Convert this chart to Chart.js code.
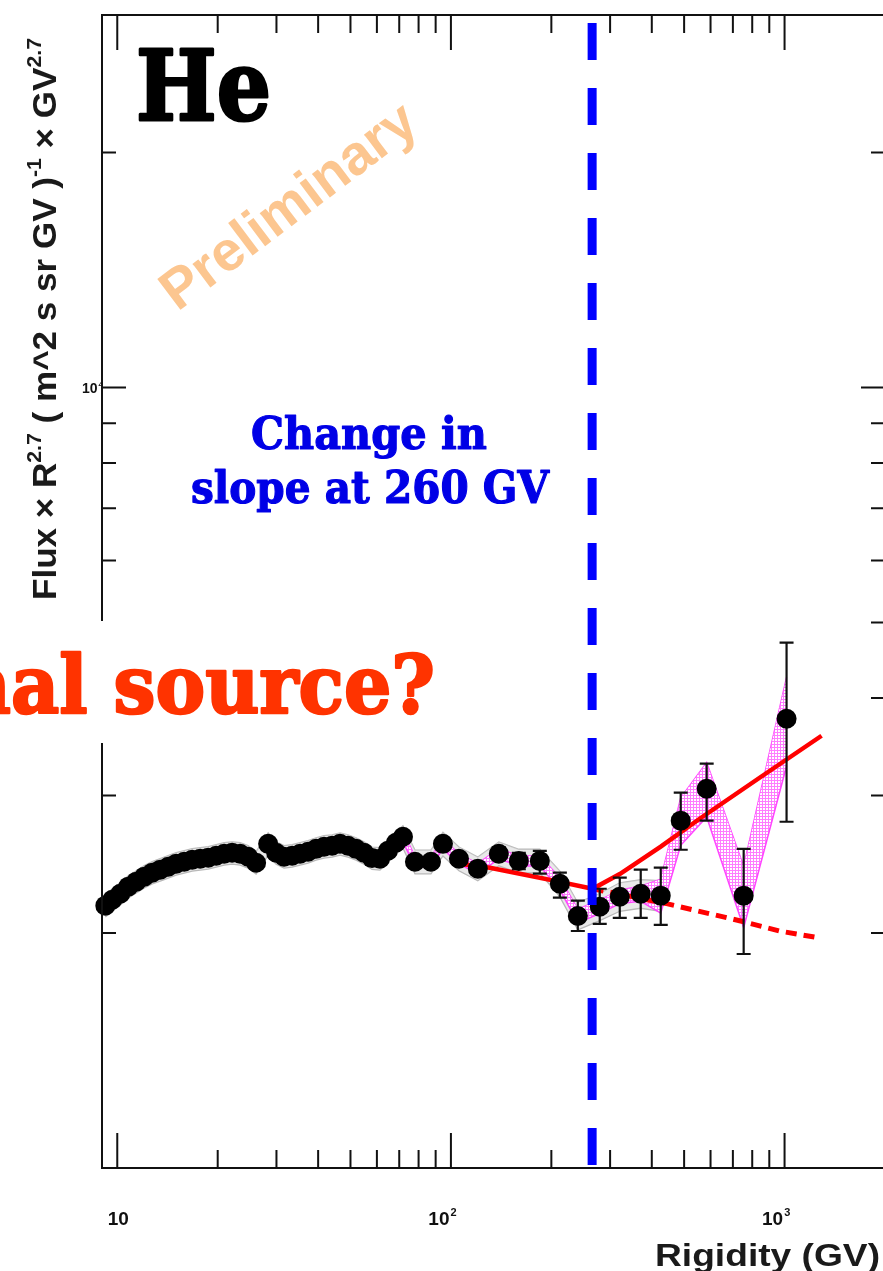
<!DOCTYPE html>
<html>
<head>
<meta charset="utf-8">
<script src="https://cdn.jsdelivr.net/npm/chart.js@4.4.1/dist/chart.umd.min.js"></script>
<style>
  html, body { margin: 0; padding: 0; background: #fff; overflow: hidden; }
  #wrap { width: 890px; height: 1271px; }
</style>
</head>
<body>
<div id="wrap"><canvas id="heChart" width="890" height="1271"></canvas></div>
<script>
// He flux x R^2.7
const rigidity = [9.21, 9.66, 10.21, 10.79, 11.40, 12.05, 12.73, 13.45, 14.21, 15.02,
    15.87, 16.77, 17.72, 18.73, 19.79, 20.91, 22.09, 23.35, 24.67, 26.07,
    28.33, 29.93, 31.62, 33.42, 35.31, 37.31, 39.43, 41.66, 44.03, 46.52,
    49.16, 51.95, 54.89, 58.0, 61.29, 64.76, 68.43, 71.83, 78.03, 87.14,
    94.64, 105.7, 120.4, 139.2, 159.8, 184.7, 212.1, 240.1, 279.3, 320.7,
    370.6, 425.5, 488.4, 584.2, 754.1, 1013.9];
const flux = [2168, 2206, 2246, 2293, 2327, 2362, 2390, 2411, 2432, 2454,
    2468, 2483, 2490, 2498, 2512, 2527, 2534, 2527, 2505, 2461,
    2602, 2534, 2505, 2512, 2527, 2542, 2564, 2580, 2587, 2602,
    2587, 2564, 2534, 2495, 2490, 2549, 2610, 2657, 2468, 2468,
    2602, 2490, 2418, 2527, 2474, 2474, 2313, 2103, 2161, 2226,
    2246, 2233, 2786, 3061, 2233, 3763];
const statUp = [9, 9, 9, 9, 10, 10, 10, 10, 11, 11,
    11, 12, 12, 12, 13, 13, 14, 14, 15, 15,
    16, 16, 17, 17, 18, 18, 19, 20, 21, 22,
    23, 24, 25, 26, 27, 28, 30, 32, 34, 36,
    38, 40, 42, 48, 60, 75, 77, 97, 118, 129,
    165, 192, 240, 235, 331, 947];
const statDown = [9, 9, 9, 9, 10, 10, 10, 10, 11, 11,
    11, 12, 12, 12, 13, 13, 14, 14, 15, 15,
    16, 16, 17, 17, 18, 18, 19, 20, 21, 22,
    23, 24, 25, 26, 27, 28, 30, 32, 34, 36,
    38, 40, 42, 48, 60, 91, 93, 91, 106, 135,
    155, 184, 229, 275, 353, 986];
// systematic bands, half width in percent (null = not drawn)
const sysGreyPct = [3.3, 3.3, 3.3, 3.3, 3.3, 3.3, 3.3, 3.3, 3.3, 3.3,
    3.3, 3.3, 3.3, 3.3, 3.3, 3.3, 3.3, 3.3, 3.3, 3.3,
    3.3, 3.3, 3.3, 3.3, 3.3, 3.3, 3.3, 3.3, 3.3, 3.3,
    3.3, 3.3, 3.3, 3.3, 3.3, 3.3, 3.3, 3.3, 3.5, 3.5,
    3.5, 3.5, 3.5, 3.5, 3.5, 3.5, 3.8, 4.0, 4.0, 4.2,
    4.2, 4.5, null, null, null, null];
const sysPinkPct = [null, null, null, null, null, null, null, null, null, null,
    null, null, null, null, null, null, null, null, null, null,
    null, null, null, null, null, null, null, null, null, null,
    null, null, null, null, null, null, null, 1.5, 1.5, 1.5,
    1.5, 1.5, 1.5, 1.5, 1.5, 1.5, 1.8, 2.0, 2.0, 2.0,
    2.2, 5.0, 7.0, 8.0, 9.0, 13.0];

// fits
const brokenFitR = [100.7, 130.9, 172.4, 212.0, 266.0, 320.7, 425.5, 556.6, 841.8, 1291];
const brokenFitF = [2460, 2424, 2368, 2326, 2279, 2380, 2580, 2802, 3162, 3579];
const singleFitR = [266.0, 443.0, 733.0, 966.0, 1273];
const singleFitF = [2279, 2181, 2074, 2012, 1971];
const breakRigidity = 265;

// axes
const xMin = 9, xMax = 2000, yMin = 1000, yMax = 30000;
const xMajorTicks = [10, 100, 1000];
const xMinorTicks = [20, 30, 40, 50, 60, 70, 80, 90, 200, 300, 400, 500, 600, 700, 800, 900, 2000];
const xTickBase = ["10", "10", "10"];
const xTickExp = ["", "2", "3"];
const yMajorTicks = [1000, 10000];
const yMinorTicks = [2000, 3000, 4000, 5000, 6000, 7000, 8000, 9000, 20000];
const yLabelTicks = [10000];
const yTickBase = ["10"];
const yTickExp = ["4"];

const pts = (xs, ys) => xs.map((v, i) => ({ x: v, y: ys[i] }));
const band = (pct, sign) => rigidity
    .map((r, i) => pct[i] == null ? null : { x: r, y: flux[i] * (1 + sign * pct[i] / 100) })
    .filter(p => p);

const canvas = document.getElementById("heChart");
const ctx = canvas.getContext("2d");

// pink dotted fill
const pat = document.createElement("canvas");
pat.width = 3; pat.height = 3;
const pc = pat.getContext("2d");
pc.fillStyle = "#ff7cff";
pc.fillRect(0, 0, 3, 3);
pc.fillStyle = "#ffffff";
pc.fillRect(1, 1, 2, 2);
const pinkFill = ctx.createPattern(pat, "repeat");

const SANS = "'Liberation Sans', Arial, sans-serif";
const SLAB = "'DejaVu Serif', serif";

// draws text squeezed/stretched to a given width, optional stroke for heavier weight
function fitText(c, text, x, y, font, width, align, stroke) {
    c.font = font;
    const s = width / c.measureText(text).width;
    c.save();
    c.translate(x, y);
    c.scale(s, 1);
    c.textAlign = align;
    if (stroke) {
        c.lineWidth = stroke;
        c.lineJoin = "round";
        c.strokeStyle = c.fillStyle;
        c.strokeText(text, 0, 0);
    }
    c.fillText(text, 0, 0);
    c.restore();
}

function supText(c, base, exp, x, y, size) {
    c.font = "bold " + size + "px " + SANS;
    c.textAlign = "left";
    c.fillText(base, x, y);
    const w = c.measureText(base).width;
    if (exp) {
        c.font = "bold " + Math.round(size * 0.6) + "px " + SANS;
        c.fillText(exp, x + w + 1, y - size * 0.45);
    }
}

// error bars, drawn just before the markers
const errorBars = {
    id: "errorBars",
    beforeDatasetDraw(chart, args) {
        if (args.index !== 6) return;
        const { ctx: c, scales: { x, y } } = chart;
        c.save();
        c.strokeStyle = "#111";
        c.lineWidth = 2.2;
        c.beginPath();
        rigidity.forEach((r, i) => {
            const px = x.getPixelForValue(r);
            const y1 = y.getPixelForValue(flux[i] + statUp[i]);
            const y2 = y.getPixelForValue(flux[i] - statDown[i]);
            c.moveTo(px, y1); c.lineTo(px, y2);
            c.moveTo(px - 7, y1); c.lineTo(px + 7, y1);
            c.moveTo(px - 7, y2); c.lineTo(px + 7, y2);
        });
        c.stroke();
        c.restore();
    }
};

// ROOT-like frame with inner ticks, plus the break line
const frame = {
    id: "frame",
    afterDatasetsDraw(chart) {
        const { ctx: c, chartArea: a, scales: { x, y } } = chart;
        c.save();
        c.strokeStyle = "#111";
        c.lineWidth = 2;
        c.strokeRect(a.left, a.top, a.right - a.left, a.bottom - a.top);
        c.beginPath();
        const tx = (v, len) => {
            const p = x.getPixelForValue(v);
            c.moveTo(p, a.bottom); c.lineTo(p, a.bottom - len);
            c.moveTo(p, a.top); c.lineTo(p, a.top + len);
        };
        const ty = (v, len) => {
            const p = y.getPixelForValue(v);
            c.moveTo(a.left, p); c.lineTo(a.left + len, p);
            c.moveTo(a.right, p); c.lineTo(a.right - len, p);
        };
        xMajorTicks.forEach(v => tx(v, 35));
        xMinorTicks.forEach(v => tx(v, 18));
        yMajorTicks.forEach(v => ty(v, 24));
        yMinorTicks.forEach(v => ty(v, 14));
        c.stroke();

        // tick labels
        c.fillStyle = "#111";
        c.textBaseline = "alphabetic";
        xMajorTicks.forEach((v, i) => {
            const p = x.getPixelForValue(v);
            c.font = "bold 19px " + SANS;
            const w = c.measureText(xTickBase[i]).width;
            const left = xTickExp[i] ? p - 12 - w / 2 : p + 1 - w / 2;
            supText(c, xTickBase[i], xTickExp[i], left, a.bottom + 57, 19);
        });
        yLabelTicks.forEach((v, i) => {
            const p = y.getPixelForValue(v);
            supText(c, yTickBase[i], yTickExp[i], a.left - 20, p + 6, 14);
        });

        // break at 260 GV
        const bx = x.getPixelForValue(breakRigidity);
        c.strokeStyle = "#0000ff";
        c.lineWidth = 9;
        c.setLineDash([37, 28]);
        c.beginPath();
        c.moveTo(bx, a.top + 8);
        c.lineTo(bx, a.bottom - 3);
        c.stroke();
        c.restore();
    }
};

const annotate = {
    id: "annotate",
    afterDraw(chart) {
        const c = chart.ctx;
        c.save();
        c.textBaseline = "alphabetic";

        // axis titles
        c.fillStyle = "#1a1a1a";
        fitText(c, "Rigidity (GV)", 880, 1266, "bold 32px " + SANS, 225, "right");
        const pieces = [["Flux × R", 0], ["2.7", 1], [" ( m^2 s sr GV )", 0], ["-1", 1], [" × GV", 0], ["2.7", 1]];
        let total = 0;
        pieces.forEach(p => {
            c.font = "bold " + (p[1] ? 20 : 33) + "px " + SANS;
            p.push(c.measureText(p[0]).width);
            total += p[2];
        });
        c.save();
        c.translate(56, 600);
        c.rotate(-Math.PI / 2);
        c.scale(562 / total, 1);
        let cx = 0;
        pieces.forEach(p => {
            c.font = "bold " + (p[1] ? 20 : 33) + "px " + SANS;
            c.textAlign = "left";
            c.fillText(p[0], cx, p[1] ? -15 : 0);
            cx += p[2];
        });
        c.restore();

        // He
        c.fillStyle = "#000";
        fitText(c, "He", 136, 120, "bold 98px " + SLAB, 135, "left", 3);

        // Preliminary
        c.save();
        c.translate(290, 208);
        c.rotate(-37 * Math.PI / 180);
        c.fillStyle = "#fcc690";
        c.textBaseline = "middle";
        fitText(c, "Preliminary", 0, 0, "bold 56px " + SANS, 305, "center");
        c.restore();

        // change in slope
        c.fillStyle = "#0000e6";
        fitText(c, "Change in", 369, 449, "bold 45px " + SLAB, 236, "center", 1.2);
        fitText(c, "slope at 260 GV", 370, 503, "bold 45px " + SLAB, 358, "center", 1.2);

        // additional source box (cut at the left edge in the original)
        c.fillStyle = "#fff";
        c.fillRect(0, 621, 462, 122);
        c.fillStyle = "#ff3300";
        c.font = "bold 80px " + SLAB;
        const s = 424 / c.measureText("al source?").width;
        c.save();
        c.translate(435, 713);
        c.scale(s, 1);
        c.textAlign = "right";
        c.lineWidth = 2.5;
        c.lineJoin = "round";
        c.strokeStyle = "#ff3300";
        c.strokeText("nal source?", 0, 0);
        c.fillText("nal source?", 0, 0);
        c.restore();
        c.restore();
    }
};

new Chart(ctx, {
    type: "scatter",
    data: {
        datasets: [
            { data: band(sysGreyPct, 1), showLine: true, pointRadius: 0, borderColor: "#b8b8b8", borderWidth: 1.3, fill: false, order: 7 },
            { data: band(sysGreyPct, -1), showLine: true, pointRadius: 0, borderColor: "#b8b8b8", borderWidth: 1.3, fill: "-1", backgroundColor: "rgba(215,215,215,0.55)", order: 6 },
            { data: band(sysPinkPct, 1), showLine: true, pointRadius: 0, borderColor: "#ff44ff", borderWidth: 1.5, fill: false, order: 5 },
            { data: band(sysPinkPct, -1), showLine: true, pointRadius: 0, borderColor: "#ff44ff", borderWidth: 1.5, fill: "-1", backgroundColor: pinkFill, order: 4 },
            { data: pts(singleFitR, singleFitF), showLine: true, pointRadius: 0, borderColor: "#ff0000", borderWidth: 5, borderDash: [11, 7], fill: false, order: 3 },
            { data: pts(brokenFitR, brokenFitF), showLine: true, pointRadius: 0, borderColor: "#ff0000", borderWidth: 4.5, fill: false, order: 2 },
            { data: pts(rigidity, flux), pointRadius: 10, pointBackgroundColor: "#000", pointBorderWidth: 0, clip: false, order: 1 }
        ]
    },
    options: {
        responsive: false,
        animation: false,
        devicePixelRatio: 1,
        layout: { autoPadding: false, padding: { left: 102, right: 5, top: 15, bottom: 103 } },
        plugins: { legend: { display: false }, tooltip: { enabled: false } },
        scales: {
            x: { type: "logarithmic", min: xMin, max: xMax, display: false },
            y: { type: "logarithmic", min: yMin, max: yMax, display: false }
        }
    },
    plugins: [errorBars, frame, annotate]
});
</script>
</body>
</html>
